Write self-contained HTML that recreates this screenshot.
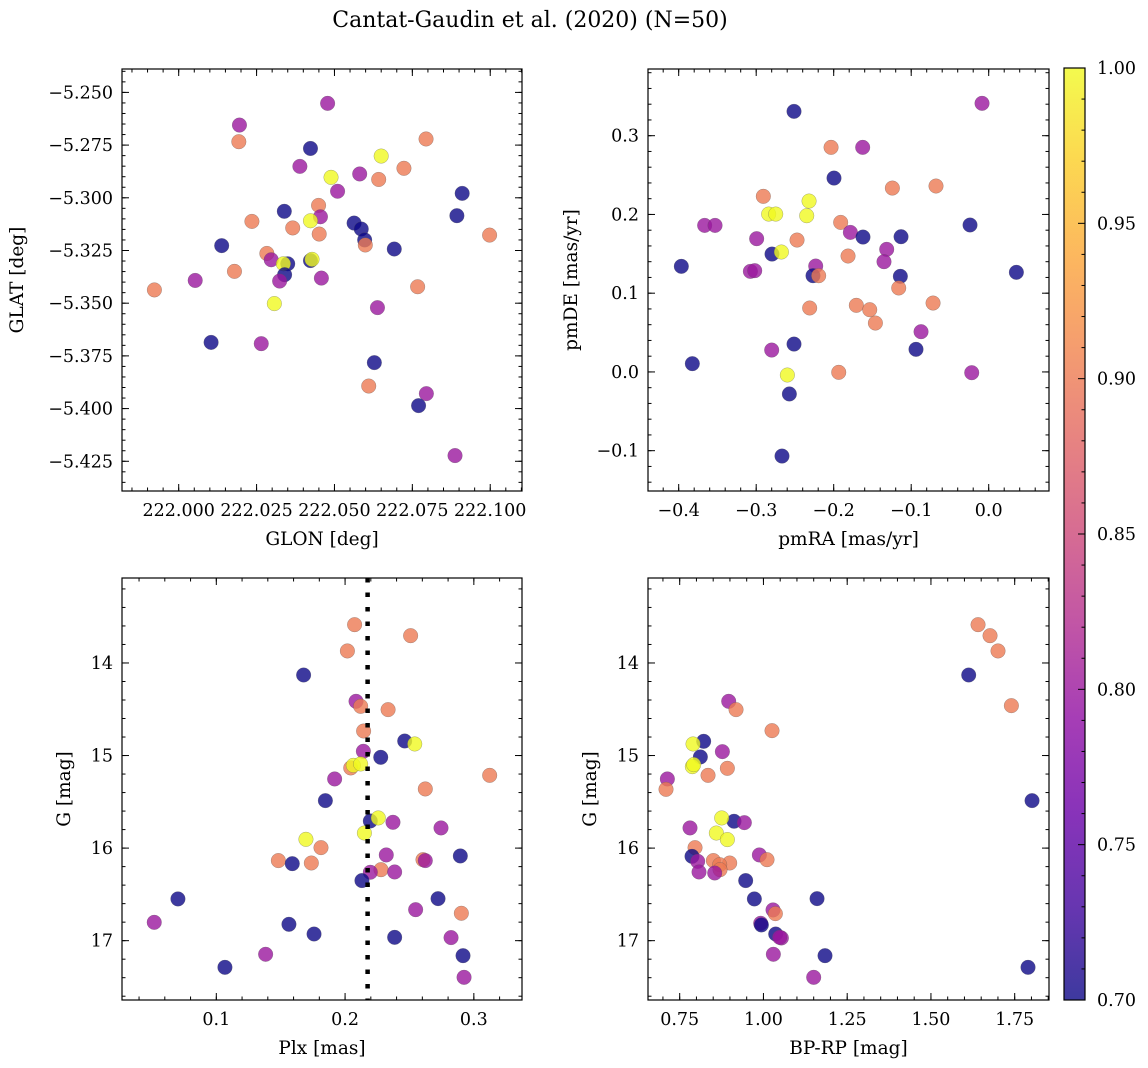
<!DOCTYPE html>
<html><head><meta charset="utf-8"><style>
body{margin:0;background:#fff;}
svg{display:block;font-family:"DejaVu Serif","Liberation Serif",serif;}
</style></head><body>
<svg id="fig" width="1148" height="1068" viewBox="0 0 1148 1068" xmlns="http://www.w3.org/2000/svg">
<defs>
<linearGradient id="plasma" x1="0" y1="1" x2="0" y2="0">
<stop offset="0" stop-color="#0d0887"/><stop offset="0.1" stop-color="#41049d"/><stop offset="0.2" stop-color="#6a00a8"/><stop offset="0.3" stop-color="#8f0da4"/><stop offset="0.4" stop-color="#b12a90"/><stop offset="0.5" stop-color="#cc4778"/><stop offset="0.6" stop-color="#e16462"/><stop offset="0.7" stop-color="#f2844b"/><stop offset="0.8" stop-color="#fca636"/><stop offset="0.9" stop-color="#fcce25"/><stop offset="1" stop-color="#f0f921"/>
</linearGradient>
</defs>
<text x="530" y="27" font-size="22" text-anchor="middle">Cantat-Gaudin et al. (2020) (N=50)</text>
</svg>
<script>
// ---- data ----
const p1Glon = [222.0478,222.0195,222.0193,222.0423,222.0650,222.0794,222.0389,222.0489,222.0581,222.0642,222.0723,222.0510,222.0910,222.0449,222.0339,222.0455,222.0423,222.0893,222.0235,222.0366,222.0451,222.0563,222.0586,222.0597,222.0599,222.0998,222.0138,222.0692,222.0283,222.0297,222.0350,222.0336,222.0423,222.0428,222.0340,222.0324,222.0458,222.0179,222.0053,221.9922,222.0767,222.0307,222.0638,222.0104,222.0265,222.0628,222.0610,222.0795,222.0770,222.0887];
const p1Glat = [-5.2552,-5.2655,-5.2734,-5.2766,-5.2802,-5.2721,-5.2851,-5.2903,-5.2887,-5.2913,-5.2860,-5.2969,-5.2979,-5.3036,-5.3064,-5.3090,-5.3109,-5.3085,-5.3112,-5.3143,-5.3172,-5.3120,-5.3148,-5.3200,-5.3224,-5.3177,-5.3227,-5.3243,-5.3264,-5.3294,-5.3313,-5.3313,-5.3298,-5.3292,-5.3365,-5.3395,-5.3381,-5.3349,-5.3392,-5.3437,-5.3422,-5.3502,-5.3521,-5.3686,-5.3692,-5.3782,-5.3893,-5.3929,-5.3986,-5.4223];
const p1Prob = [0.8,0.8,0.9,0.7,1.0,0.9,0.8,1.0,0.8,0.9,0.9,0.8,0.7,0.9,0.7,0.8,1.0,0.7,0.9,0.9,0.9,0.7,0.7,0.7,0.9,0.9,0.7,0.7,0.9,0.8,0.7,1.0,0.7,1.0,0.7,0.8,0.8,0.9,0.8,0.9,0.9,1.0,0.8,0.7,0.8,0.7,0.9,0.8,0.7,0.8];

const p2Pmra = [-0.2512,-0.0086,-0.2034,-0.1626,-0.1996,-0.1243,-0.0680,-0.2908,-0.2318,-0.2839,-0.2748,-0.2348,-0.3665,-0.3531,-0.1910,-0.0241,-0.1785,-0.1622,-0.1131,-0.2994,-0.2473,-0.1316,-0.2796,-0.2675,-0.1815,-0.1351,-0.3966,-0.3075,-0.3019,-0.2232,-0.2267,-0.2194,-0.1140,0.0357,-0.1161,-0.2310,-0.1708,-0.1535,-0.1462,-0.0718,-0.0873,-0.2512,-0.2800,-0.0938,-0.3824,-0.1935,-0.0219,-0.2598,-0.2572,-0.2667];
const p2Pmde = [0.3309,0.3411,0.2852,0.2852,0.2462,0.2335,0.2361,0.2230,0.2170,0.2005,0.2005,0.1984,0.1861,0.1861,0.1899,0.1866,0.1772,0.1713,0.1717,0.1692,0.1675,0.1557,0.1497,0.1523,0.1472,0.1400,0.1341,0.1277,0.1286,0.1345,0.1222,0.1222,0.1214,0.1265,0.1066,0.0812,0.0846,0.0790,0.0621,0.0875,0.0511,0.0354,0.0278,0.0287,0.0105,-0.0005,-0.0010,-0.0039,-0.0280,-0.1068];
const p2Prob = [0.7,0.8,0.9,0.8,0.7,0.9,0.9,0.9,1.0,1.0,1.0,1.0,0.8,0.8,0.9,0.7,0.8,0.7,0.7,0.8,0.9,0.8,0.7,1.0,0.9,0.8,0.7,0.8,0.8,0.8,0.7,0.9,0.7,0.7,0.9,0.9,0.9,0.9,0.9,0.9,0.8,0.7,0.8,0.7,0.7,0.9,0.8,1.0,0.7,0.7];

const p3Plx = [0.2074,0.2509,0.2018,0.1678,0.2085,0.2121,0.2334,0.2144,0.2463,0.2541,0.2142,0.2277,0.2044,0.2064,0.2121,0.3123,0.1919,0.2623,0.1847,0.2196,0.2258,0.2372,0.2745,0.2150,0.1696,0.1813,0.2320,0.1482,0.1590,0.1738,0.2605,0.2623,0.2895,0.2279,0.2196,0.2385,0.2131,0.0702,0.2722,0.2548,0.2903,0.0518,0.1564,0.1759,0.2385,0.2823,0.1383,0.2916,0.1067,0.2924];
const p3G = [13.586,13.705,13.870,14.130,14.414,14.468,14.504,14.735,14.843,14.875,14.954,15.019,15.134,15.106,15.091,15.214,15.253,15.361,15.487,15.707,15.674,15.721,15.782,15.837,15.905,15.995,16.074,16.135,16.168,16.161,16.125,16.135,16.085,16.233,16.261,16.258,16.351,16.549,16.546,16.665,16.704,16.802,16.823,16.928,16.964,16.967,17.147,17.162,17.288,17.396];
const p3Prob = [0.9,0.9,0.9,0.7,0.8,0.9,0.9,0.9,0.7,1.0,0.8,0.7,0.9,1.0,1.0,0.9,0.8,0.9,0.7,0.7,1.0,0.8,0.8,1.0,1.0,0.9,0.8,0.9,0.7,0.9,0.9,0.8,0.7,0.9,0.8,0.8,0.7,0.7,0.7,0.8,0.9,0.8,0.7,0.7,0.7,0.8,0.8,0.7,0.7,0.8];
const p3MedianPlx = 0.2175;

const p4Bprp = [1.6406,1.6764,1.7002,1.6127,1.7401,0.8963,0.9182,1.0256,0.8216,0.7898,0.8774,0.8117,0.7878,0.7918,0.8923,0.7132,0.8346,0.7092,1.8018,0.9122,0.8754,0.9430,0.7808,0.8594,0.8923,0.7958,0.9878,0.8505,0.7868,0.8993,1.0107,0.8037,0.8694,0.8704,0.8545,0.8077,0.9470,1.1600,0.9729,1.0286,1.0356,0.9918,0.9938,1.0366,1.0535,1.0485,1.0296,1.1838,1.7898,1.1500];
const p4G = [13.586,13.705,13.870,14.130,14.461,14.414,14.504,14.731,14.846,14.875,14.958,15.015,15.120,15.098,15.138,15.253,15.214,15.365,15.487,15.710,15.674,15.725,15.782,15.837,15.908,15.995,16.074,16.135,16.089,16.161,16.125,16.143,16.179,16.233,16.269,16.258,16.351,16.546,16.549,16.668,16.708,16.812,16.830,16.928,16.971,16.964,17.147,17.162,17.288,17.396];
const p4Prob = [0.9,0.9,0.9,0.7,0.9,0.8,0.9,0.9,0.7,1.0,0.8,0.7,1.0,1.0,0.9,0.8,0.9,0.9,0.7,0.7,1.0,0.8,0.8,1.0,1.0,0.9,0.8,0.9,0.7,0.9,0.9,0.8,0.9,0.9,0.8,0.8,0.7,0.7,0.7,0.8,0.9,0.8,0.7,0.7,0.8,0.8,0.8,0.7,0.7,0.8];

const p1XTicks = ["222.000","222.025","222.050","222.075","222.100"];
const p1YTicks = ["-5.250","-5.275","-5.300","-5.325","-5.350","-5.375","-5.400","-5.425"];
const p2XTicks = ["-0.4","-0.3","-0.2","-0.1","0.0"];
const p2YTicks = ["-0.1","0.0","0.1","0.2","0.3"];
const p3XTicks = ["0.1","0.2","0.3"];
const gTicks = ["14","15","16","17"];
const p4XTicks = ["0.75","1.00","1.25","1.50","1.75"];
const cbTicks = ["0.70","0.75","0.80","0.85","0.90","0.95","1.00"];

// ---- rendering ----
const NS = "http://www.w3.org/2000/svg";
const svg = document.getElementById("fig");
function mk(tag, attrs, parent){const e=document.createElementNS(NS,tag);for(const k in attrs)e.setAttribute(k,attrs[k]);(parent||svg).appendChild(e);return e;}
const stops=[[0,[13,8,135]],[0.1,[65,4,157]],[0.2,[106,0,168]],[0.3,[143,13,164]],[0.4,[177,42,144]],[0.5,[204,71,120]],[0.6,[225,100,98]],[0.7,[242,132,75]],[0.8,[252,166,54]],[0.9,[252,206,37]],[1,[240,249,33]]];
function plasma(t){t=Math.max(0,Math.min(1,t));for(let i=1;i<stops.length;i++){if(t<=stops[i][0]){const a=stops[i-1],b=stops[i],f=(t-a[0])/(b[0]-a[0]);return "rgb("+a[1].map((c,j)=>Math.round(c+(b[1][j]-c)*f)).join(",")+")";}}return "rgb(240,249,33)";}
const VMIN=0.7,VMAX=1.0;
const TFS=17.5, LFS=18.5;

function panel(cfg){
  const {L,T,W,H,xmin,xmax,ymin,ymax,yinv,name}=cfg;
  const sx=v=>L+(v-xmin)/(xmax-xmin)*W;
  const sy=yinv? v=>T+(v-ymin)/(ymax-ymin)*H : v=>T+(ymax-v)/(ymax-ymin)*H;
  const g=mk("g",{});
  
  
  const pg=mk("g",{},g);
  
  
  cfg.xs.forEach((xv,i)=>{
    const c=mk("circle",{cx:sx(xv),cy:sy(cfg.ys[i]),r:7.3,fill:plasma((cfg.ps[i]-VMIN)/(VMAX-VMIN)),"fill-opacity":0.8,stroke:"#555","stroke-opacity":0.5,"stroke-width":0.5},pg);
    
    
  });
  if(cfg.extra) cfg.extra(g,sx,sy);
  const fr=mk("rect",{x:L,y:T,width:W,height:H,fill:"none",stroke:"#000","stroke-width":1.2},g);
  
  
  const tk=mk("g",{stroke:"#000","stroke-width":1},g);
  function xt(v,len){const x=sx(v);if(x<L-0.5||x>L+W+0.5)return;mk("line",{x1:x,x2:x,y1:T+H,y2:T+H-len},tk);mk("line",{x1:x,x2:x,y1:T,y2:T+len},tk);}
  function yt(v,len){const y=sy(v);if(y<T-0.5||y>T+H+0.5)return;mk("line",{x1:L,x2:L+len,y1:y,y2:y},tk);mk("line",{x1:L+W,x2:L+W-len,y1:y,y2:y},tk);}
  const lo=Math.min(xmin,xmax),hi=Math.max(xmin,xmax);
  for(let k=Math.ceil(lo/cfg.xminor-1e-6);k*cfg.xminor<=hi+1e-9;k++)xt(k*cfg.xminor,3.5);
  const ylo=Math.min(ymin,ymax),yhi=Math.max(ymin,ymax);
  for(let k=Math.ceil(ylo/cfg.yminor-1e-6);k*cfg.yminor<=yhi+1e-9;k++)yt(k*cfg.yminor,3.5);
  cfg.xticks.forEach(s=>{const v=parseFloat(s);xt(v,7);
    const t=mk("text",{x:sx(v),y:T+H+25,"font-size":TFS,"text-anchor":"middle"},g);t.textContent=s.replace("-","\u2212");
    
    });
  cfg.yticks.forEach(s=>{const v=parseFloat(s);yt(v,7);
    const t=mk("text",{x:L-9,y:sy(v)+6,"font-size":TFS,"text-anchor":"end"},g);t.textContent=s.replace("-","\u2212");
    
    });
  const xl=mk("text",{x:L+W/2,y:T+H+54,"font-size":LFS,"text-anchor":"middle"},g);xl.textContent=cfg.xlabel;
  
  
  const yl=mk("text",{x:0,y:0,"font-size":LFS,"text-anchor":"middle",transform:`translate(${cfg.ylx},${T+H/2}) rotate(-90)`},g);yl.textContent=cfg.ylabel;
  
  
}

panel({name:"glon-glat-panel",L:122,T:69,W:400,H:422,xmin:221.9818,xmax:222.1102,ymin:-5.4391,ymax:-5.2389,
  xs:p1Glon,ys:p1Glat,ps:p1Prob,xticks:p1XTicks,yticks:p1YTicks,xminor:0.005,yminor:0.005,xlabel:"GLON [deg]",ylabel:"GLAT [deg]",ylx:23});
panel({name:"proper-motion-panel",L:648,T:69,W:401,H:422,xmin:-0.4396,xmax:0.0778,ymin:-0.1512,ymax:0.3847,
  xs:p2Pmra,ys:p2Pmde,ps:p2Prob,xticks:p2XTicks,yticks:p2YTicks,xminor:0.02,yminor:0.02,xlabel:"pmRA [mas/yr]",ylabel:"pmDE [mas/yr]",ylx:577});
panel({name:"plx-g-panel",L:122,T:578,W:400,H:422,xmin:0.02676,xmax:0.3374,ymin:13.082,ymax:17.641,yinv:true,
  xs:p3Plx,ys:p3G,ps:p3Prob,xticks:p3XTicks,yticks:gTicks,xminor:0.02,yminor:0.2,xlabel:"Plx [mas]",ylabel:"G [mag]",ylx:70,
  extra:(g,sx,sy)=>{const l=mk("line",{x1:sx(p3MedianPlx),x2:sx(p3MedianPlx),y1:578,y2:1000,stroke:"#000","stroke-width":4.5,"stroke-dasharray":"4.5 10"},g);
    
    }});
panel({name:"cmd-panel",L:648,T:578,W:401,H:422,xmin:0.6554,xmax:1.8524,ymin:13.082,ymax:17.641,yinv:true,
  xs:p4Bprp,ys:p4G,ps:p4Prob,xticks:p4XTicks,yticks:gTicks,xminor:0.05,yminor:0.2,xlabel:"BP-RP [mag]",ylabel:"G [mag]",ylx:596});

const cb=mk("g",{});


const CL=1064,CT=68,CW=21,CH=932;
const cy=v=>CT+(VMAX-v)/(VMAX-VMIN)*CH;
mk("rect",{x:CL,y:CT,width:CW,height:CH,fill:"url(#plasma)","fill-opacity":0.8},cb);
mk("rect",{x:CL,y:CT,width:CW,height:CH,fill:"none",stroke:"#000","stroke-width":1.2},cb);
for(let k=70;k<=100;k++){const y=cy(k/100);mk("line",{x1:CL+CW,x2:CL+CW-(k%5===0?7:3.5),y1:y,y2:y,stroke:"#000","stroke-width":1},cb);}
cbTicks.forEach(s=>{const t=mk("text",{x:CL+CW+12,y:cy(parseFloat(s))+6,"font-size":TFS},cb);t.textContent=s;
  
  });
</script>
</body></html>
